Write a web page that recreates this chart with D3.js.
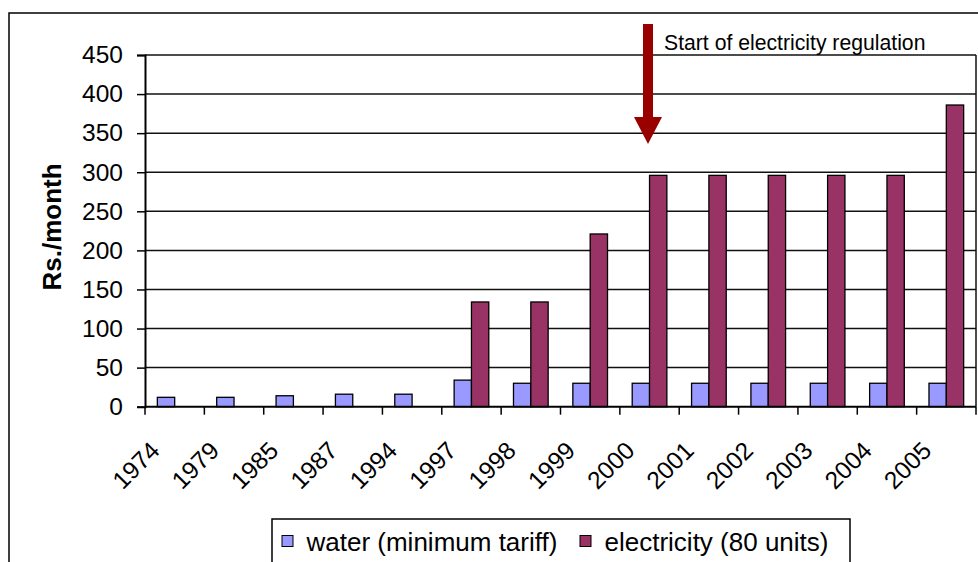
<!DOCTYPE html>
<html>
<head>
<meta charset="utf-8">
<script src="https://cdn.jsdelivr.net/npm/d3@7"></script>
<style>
  body { margin: 0; background: #fff; }
  text { font-family: "Liberation Sans", Arial, sans-serif; fill: #000; }
</style>
</head>
<body>
<div id="chart"></div>
<script>
// chart values
var years = ["1974", "1979", "1985", "1987", "1994", "1997", "1998", "1999", "2000", "2001", "2002", "2003", "2004", "2005"];
var water = [12, 12, 14, 16, 16, 34, 30, 30, 30, 30, 30, 30, 30, 30];
var electricity = [null, null, null, null, null, 134, 134, 221, 296, 296, 296, 296, 296, 386];
var seriesNames = ["water (minimum tariff)", "electricity (80 units)"];
var seriesColors = ["#9999FF", "#993366"];
var yTicks = [0, 50, 100, 150, 200, 250, 300, 350, 400, 450];

var W = 978, H = 562;
var plot = { left: 145, top: 55, right: 976, bottom: 406.7 };

var svg = d3.select('#chart').append('svg')
    .attr('width', W)
    .attr('height', H);

// outer chart border
svg.append('rect')
    .attr('x', 9).attr('y', 13)
    .attr('width', 990).attr('height', 600)
    .attr('fill', 'none')
    .attr('stroke', '#000')
    .attr('stroke-width', 1.5);

var x = d3.scaleBand()
    .domain(years)
    .range([plot.left, plot.right])
    .padding(0);

var y = d3.scaleLinear()
    .domain([0, 450])
    .range([plot.bottom, plot.top]);

var barW = x.bandwidth() * 0.292;

// gridlines
svg.append('g')
    .selectAll('line')
    .data(yTicks.slice(1))
    .enter()
    .append('line')
    .attr('x1', plot.left).attr('x2', plot.right)
    .attr('y1', d => y(d)).attr('y2', d => y(d))
    .attr('stroke', '#111')
    .attr('stroke-width', 1.5);

// right edge of plot area
svg.append('line')
    .attr('x1', plot.right).attr('x2', plot.right)
    .attr('y1', plot.top).attr('y2', plot.bottom)
    .attr('stroke', '#111')
    .attr('stroke-width', 1.5);

// bars
var rows = years.map(function (yr, i) {
    return { year: yr, vals: [water[i], electricity[i]] };
});

var groups = svg.selectAll('.grp')
    .data(rows)
    .enter()
    .append('g')
    .attr('class', 'grp');

groups.selectAll('rect')
    .data(d => d.vals.map((v, k) => ({ year: d.year, v: v, k: k })).filter(e => e.v != null))
    .enter()
    .append('rect')
    .attr('x', d => x(d.year) + x.bandwidth() / 2 + (d.k - 1) * barW)
    .attr('y', d => y(d.v))
    .attr('width', barW)
    .attr('height', d => y(0) - y(d.v))
    .attr('fill', d => seriesColors[d.k])
    .attr('stroke', '#000')
    .attr('stroke-width', 1.3);

// y axis
var yAxis = d3.axisLeft(y)
    .tickValues(yTicks)
    .tickSize(8)
    .tickPadding(14);

var gy = svg.append('g')
    .attr('transform', 'translate(' + plot.left + ',0)')
    .call(yAxis);
gy.select('.domain').attr('stroke', '#000').attr('stroke-width', 2);
gy.selectAll('.tick line').attr('stroke', '#000').attr('stroke-width', 1.5);
gy.selectAll('.tick text')
    .attr('font-size', '24.5px')
    .attr('font-family', '"Liberation Sans", Arial, sans-serif')
    .attr('fill', '#000');

// x axis line and boundary ticks
svg.append('line')
    .attr('x1', plot.left).attr('x2', plot.right)
    .attr('y1', plot.bottom).attr('y2', plot.bottom)
    .attr('stroke', '#000')
    .attr('stroke-width', 2);

svg.append('g')
    .selectAll('line')
    .data(years)
    .enter()
    .append('line')
    .attr('x1', d => x(d)).attr('x2', d => x(d))
    .attr('y1', plot.bottom).attr('y2', plot.bottom + 8)
    .attr('stroke', '#000')
    .attr('stroke-width', 1.5);

svg.append('line')
    .attr('x1', plot.right).attr('x2', plot.right)
    .attr('y1', plot.bottom).attr('y2', plot.bottom + 8)
    .attr('stroke', '#000')
    .attr('stroke-width', 1.5);

// rotated year labels
svg.append('g')
    .selectAll('text')
    .data(years)
    .enter()
    .append('text')
    .attr('transform', d => 'translate(' + (x(d) + x.bandwidth() / 2 - 13.5) + ',452) rotate(-45)')
    .attr('text-anchor', 'end')
    .attr('font-size', '24.5px')
    .text(d => d);

// y axis title
svg.append('text')
    .attr('transform', 'translate(61,227) rotate(-90)')
    .attr('text-anchor', 'middle')
    .attr('font-size', '26px')
    .attr('font-weight', 'bold')
    .text('Rs./month');

// annotation arrow
var arrowX = 648;
svg.append('rect')
    .attr('x', arrowX - 5).attr('y', 24)
    .attr('width', 10).attr('height', 94)
    .attr('fill', '#990000');
svg.append('path')
    .attr('d', 'M' + (arrowX - 14) + ',117 L' + (arrowX + 14) + ',117 L' + arrowX + ',144 Z')
    .attr('fill', '#990000');

svg.append('text')
    .attr('x', 664).attr('y', 50)
    .attr('font-size', '21.2px')
    .text('Start of electricity regulation');

// legend
var legend = svg.append('g').attr('transform', 'translate(272,519)');
legend.append('rect')
    .attr('x', 0).attr('y', 0)
    .attr('width', 578).attr('height', 70)
    .attr('fill', '#fff')
    .attr('stroke', '#000')
    .attr('stroke-width', 1.5);

var legX = [10, 308];
seriesNames.forEach(function (name, i) {
    legend.append('rect')
        .attr('x', legX[i]).attr('y', 16.5)
        .attr('width', 11).attr('height', 11)
        .attr('fill', seriesColors[i])
        .attr('stroke', '#000')
        .attr('stroke-width', 1);
    legend.append('text')
        .attr('x', legX[i] + 24.5).attr('y', 32)
        .attr('font-size', '26px')
        .text(name);
});
</script>
</body>
</html>
